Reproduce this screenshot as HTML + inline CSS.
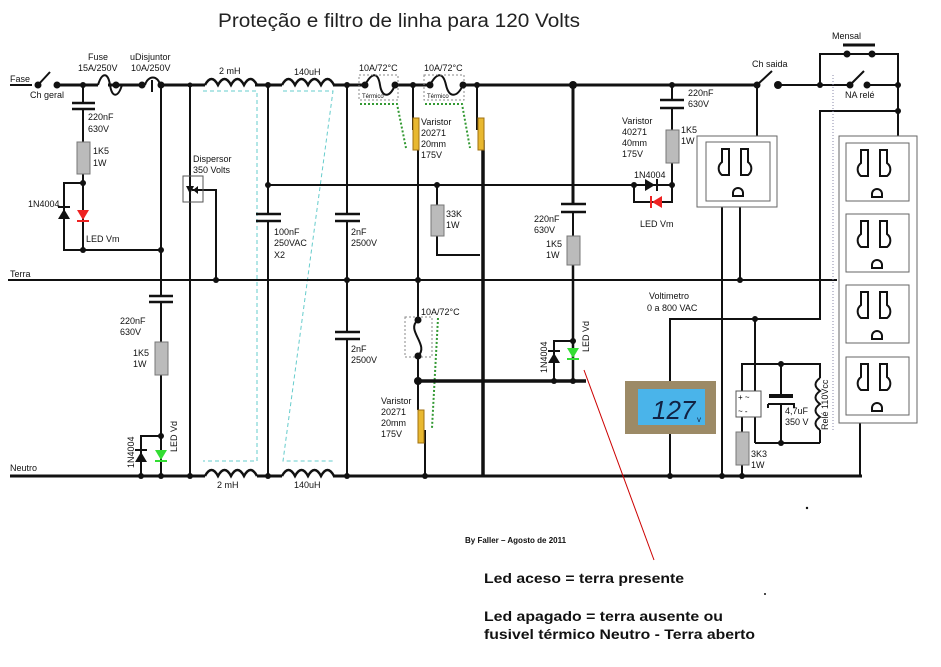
<!DOCTYPE html>
<html><head><meta charset="utf-8"><style>
html,body{margin:0;padding:0;background:#fff;}
svg{display:block;font-family:"Liberation Sans",Arial,sans-serif;}
</style></head><body>
<svg width="941" height="667" viewBox="0 0 941 667" xmlns="http://www.w3.org/2000/svg">
<rect width="941" height="667" fill="#fff"/>
<text x="218" y="27" font-size="19" fill="#222" textLength="362" lengthAdjust="spacingAndGlyphs">Proteção e filtro de linha para 120 Volts</text>

<g stroke="#6cc" stroke-width="1" stroke-dasharray="4,3" fill="none">
<polyline points="203,91 257,91 257,461 203,461"/>
<polyline points="283,91 333,91 283,461 333,461"/>
</g>
<g stroke="#393" stroke-width="2" stroke-dasharray="2,2" fill="none">
<polyline points="360,104 397,104 406,148"/>
<polyline points="425,104 462,104 470,148"/>
<polyline points="438,318 432,428"/>
</g>

<g stroke="#111" stroke-width="2" fill="none">
<line x1="10" y1="85" x2="32" y2="85"/>
<line x1="57" y1="85" x2="98" y2="85" stroke-width="3"/>
<line x1="108" y1="85" x2="145" y2="85" stroke-width="3"/>
<line x1="160" y1="85" x2="205" y2="85" stroke-width="3"/>
<line x1="255" y1="85" x2="282" y2="85" stroke-width="3"/>
<line x1="333" y1="85" x2="365" y2="85" stroke-width="3"/>
<line x1="395" y1="85" x2="430" y2="85" stroke-width="3"/>
<line x1="463" y1="85" x2="757" y2="85" stroke-width="3"/>
<line x1="778" y1="85" x2="850" y2="85" stroke-width="2"/>
<line x1="870" y1="85" x2="898" y2="85" stroke-width="2"/>
<line x1="38" y1="85" x2="50" y2="72"/>
<path d="M98,85 C102,72 108,72 110,85 C112,98 118,98 122,85" stroke-width="2"/>
<path d="M145,85 C148,75 158,75 160,85" />
<line x1="152" y1="80" x2="152" y2="92"/>
<path d="M205,85 q6.5,-12 13,0 q6.5,-12 13,0 q6.5,-12 13,0 q6.5,-12 13,0" stroke-width="2.5"/>
<path d="M282,85 q6.5,-12 13,0 q6.5,-12 13,0 q6.5,-12 13,0 q6.5,-12 13,0" stroke-width="2.5"/>
<path d="M205,476 q6.5,-12 13,0 q6.5,-12 13,0 q6.5,-12 13,0 q6.5,-12 13,0" stroke-width="2.5"/>
<path d="M282,476 q6.5,-12 13,0 q6.5,-12 13,0 q6.5,-12 13,0 q6.5,-12 13,0" stroke-width="2.5"/>
<path d="M365,85 C372,72 378,72 380,85 C382,98 390,98 395,85"/>
<path d="M430,85 C437,72 443,72 446,85 C449,98 457,98 463,85"/>
<line x1="8" y1="280" x2="835" y2="280"/>
<line x1="10" y1="476" x2="205" y2="476" stroke-width="3"/>
<line x1="257" y1="476" x2="282" y2="476" stroke-width="3"/>
<line x1="333" y1="476" x2="862" y2="476" stroke-width="3"/>

<line x1="83" y1="85" x2="83" y2="103"/>
<line x1="83" y1="109" x2="83" y2="142"/>
<line x1="83" y1="174" x2="83" y2="250"/>
<polyline points="83,183 64,183 64,250 161,250"/>
<line x1="161" y1="85" x2="161" y2="296"/>
<line x1="161" y1="302" x2="161" y2="342"/>
<line x1="161" y1="375" x2="161" y2="476"/>
<polyline points="161,436 141,436 141,476"/>
<line x1="190" y1="85" x2="190" y2="476"/>
<polyline points="192,190 216,190 216,280"/>
<line x1="268" y1="85" x2="268" y2="214"/>
<line x1="268" y1="221" x2="268" y2="476"/>
<line x1="268" y1="185" x2="627" y2="185"/>
<line x1="347" y1="85" x2="347" y2="214"/>
<line x1="347" y1="221" x2="347" y2="332"/>
<line x1="347" y1="339" x2="347" y2="476"/>
<line x1="413" y1="85" x2="413" y2="130"/>
<line x1="418" y1="140" x2="418" y2="320"/>
<line x1="418" y1="356" x2="418" y2="410"/>
<line x1="425" y1="430" x2="425" y2="476"/>
<line x1="418" y1="381" x2="586" y2="381" stroke-width="3.5"/>
<line x1="437" y1="185" x2="437" y2="205"/>
<polyline points="437,236 437,255 480,255"/>
<line x1="477" y1="85" x2="477" y2="130"/>
<line x1="483" y1="140" x2="483" y2="476" stroke-width="3.5"/>
<line x1="573" y1="85" x2="573" y2="204" stroke-width="3"/>
<line x1="573" y1="212" x2="573" y2="236"/>
<line x1="573" y1="265" x2="573" y2="381" stroke-width="2.5"/>
<polyline points="573,341 554,341 554,381"/>
<line x1="672" y1="85" x2="672" y2="100"/>
<line x1="672" y1="108" x2="672" y2="130"/>
<line x1="672" y1="163" x2="672" y2="185"/>
<line x1="627" y1="185" x2="672" y2="185"/>
<polyline points="634,185 634,202 672,202 672,185"/>
<line x1="757" y1="85" x2="772" y2="71"/>
<line x1="757" y1="85" x2="757" y2="136"/>
<line x1="722" y1="207" x2="722" y2="476"/>
<line x1="740" y1="207" x2="740" y2="280"/>
<polyline points="820,85 820,54 898,54 898,136"/>
<line x1="850" y1="85" x2="864" y2="71"/>
<line x1="843" y1="45" x2="875" y2="45" stroke-width="3"/>
<polyline points="898,111 820,111 820,319 670,319 670,476"/>
<line x1="755" y1="319" x2="755" y2="391"/>
<polyline points="742,391 742,364 820,364 820,378"/>
<line x1="820" y1="430" x2="820" y2="443"/>
<line x1="755" y1="417" x2="755" y2="443"/>
<line x1="755" y1="443" x2="820" y2="443"/>
<line x1="781" y1="364" x2="781" y2="396"/>
<line x1="781" y1="404" x2="781" y2="443"/>
<line x1="742" y1="417" x2="742" y2="432"/>
<line x1="742" y1="465" x2="742" y2="476"/>
<line x1="860" y1="423" x2="860" y2="476"/>
<path d="M820,378 q-9,6.5 0,13 q-9,6.5 0,13 q-9,6.5 0,13 q-9,6.5 0,13"/>
</g>
<line x1="835" y1="280" x2="880" y2="280" stroke="#111" stroke-width="2" stroke-dasharray="2,2"/>
<line x1="833" y1="75" x2="833" y2="430" stroke="#88a" stroke-width="1" stroke-dasharray="1,2"/>

<g stroke="#111" stroke-width="2.5">
<line x1="72" y1="103" x2="95" y2="103"/><line x1="72" y1="109" x2="95" y2="109"/>
<line x1="149" y1="296" x2="173" y2="296"/><line x1="149" y1="302" x2="173" y2="302"/>
<line x1="256" y1="214" x2="281" y2="214"/><line x1="256" y1="221" x2="281" y2="221"/>
<line x1="335" y1="214" x2="360" y2="214"/><line x1="335" y1="221" x2="360" y2="221"/>
<line x1="335" y1="332" x2="360" y2="332"/><line x1="335" y1="339" x2="360" y2="339"/>
<line x1="561" y1="204" x2="586" y2="204"/><line x1="561" y1="212" x2="586" y2="212"/>
<line x1="660" y1="100" x2="684" y2="100"/><line x1="660" y1="108" x2="684" y2="108"/>
<line x1="769" y1="396" x2="793" y2="396" stroke-width="4"/>
</g>
<path d="M768,404 L794,404 L794,408 M768,404 L768,408" stroke="#111" stroke-width="2" fill="none"/>

<g fill="#bbb" stroke="#777" stroke-width="1">
<rect x="77" y="142" width="13" height="32"/>
<rect x="155" y="342" width="13" height="33"/>
<rect x="431" y="205" width="13" height="31"/>
<rect x="567" y="236" width="13" height="29"/>
<rect x="666" y="130" width="13" height="33"/>
<rect x="736" y="432" width="13" height="33"/>
</g>
<g fill="#e8b830" stroke="#a07010" stroke-width="1">
<rect x="413" y="118" width="6" height="32"/>
<rect x="478" y="118" width="6" height="32"/>
<rect x="418" y="410" width="6" height="33"/>
</g>
<g fill="none" stroke="#888" stroke-width="1" stroke-dasharray="2,2">
<rect x="359" y="75" width="39" height="25"/>
<rect x="424" y="75" width="40" height="25"/>
<rect x="405" y="317" width="27" height="40"/>
</g>
<path d="M418,320 C405,330 430,345 418,356" stroke="#111" stroke-width="2" fill="none"/>
<rect x="183" y="176" width="20" height="26" fill="none" stroke="#555" stroke-width="1"/>
<path d="M186,186 L190,194 L194,186 Z M193,190 L198,186 L198,194 Z" fill="#111"/>
<g fill="#111">
<path d="M58,219 L70,219 L64,209 Z"/><rect x="58" y="206" width="12" height="2"/>
<path d="M135,462 L147,462 L141,452 Z"/><rect x="135" y="449" width="12" height="2"/>
<path d="M548,363 L560,363 L554,353 Z"/><rect x="548" y="350" width="12" height="2"/>
<path d="M645,179 L645,191 L655,185 Z"/><rect x="656" y="179" width="2" height="12"/>
</g>
<path d="M77,210 L89,210 L83,220 Z" fill="#e22"/><rect x="77" y="220" width="12" height="2" fill="#e22"/>
<path d="M662,196 L662,208 L652,202 Z" fill="#e22"/><rect x="650" y="196" width="2" height="12" fill="#e22"/>
<path d="M155,450 L167,450 L161,460 Z" fill="#3d3"/><rect x="155" y="460" width="12" height="2" fill="#3d3"/>
<path d="M567,348 L579,348 L573,358 Z" fill="#3d3"/><rect x="567" y="358" width="12" height="2" fill="#3d3"/>

<g fill="#111">
<circle cx="38" cy="85" r="3.5"/><circle cx="57" cy="85" r="3.5"/><circle cx="83" cy="85" r="3"/>
<circle cx="116" cy="85" r="3.5"/><circle cx="142" cy="85" r="3.5"/><circle cx="161" cy="85" r="3.5"/>
<circle cx="190" cy="85" r="2.5"/><circle cx="268" cy="85" r="3"/><circle cx="347" cy="85" r="3"/>
<circle cx="365" cy="85" r="3.5"/><circle cx="395" cy="85" r="3.5"/><circle cx="413" cy="85" r="3"/>
<circle cx="430" cy="85" r="3.5"/><circle cx="463" cy="85" r="3.5"/><circle cx="477" cy="85" r="3"/>
<circle cx="573" cy="85" r="4"/><circle cx="672" cy="85" r="3"/><circle cx="757" cy="85" r="3.5"/>
<circle cx="778" cy="85" r="4"/><circle cx="820" cy="85" r="3"/><circle cx="850" cy="85" r="3.5"/>
<circle cx="867" cy="85" r="3.5"/><circle cx="898" cy="85" r="3"/><circle cx="898" cy="111" r="3"/>
<circle cx="847" cy="54" r="3.5"/><circle cx="872" cy="54" r="3.5"/>
<circle cx="83" cy="183" r="3"/><circle cx="83" cy="250" r="3"/><circle cx="161" cy="250" r="3"/>
<circle cx="268" cy="185" r="3"/><circle cx="437" cy="185" r="3"/><circle cx="634" cy="185" r="3"/><circle cx="672" cy="185" r="3"/>
<circle cx="216" cy="280" r="3"/><circle cx="347" cy="280" r="3"/><circle cx="418" cy="280" r="3"/><circle cx="740" cy="280" r="3"/><circle cx="880" cy="280" r="3"/>
<circle cx="418" cy="381" r="4"/><circle cx="573" cy="341" r="3"/><circle cx="573" cy="381" r="3"/><circle cx="554" cy="381" r="3"/>
<circle cx="161" cy="436" r="3"/><circle cx="755" cy="319" r="3"/><circle cx="781" cy="364" r="3"/><circle cx="781" cy="443" r="3"/>
<circle cx="141" cy="476" r="3"/><circle cx="161" cy="476" r="3"/><circle cx="190" cy="476" r="3"/><circle cx="268" cy="476" r="3"/>
<circle cx="347" cy="476" r="3"/><circle cx="425" cy="476" r="3"/><circle cx="670" cy="476" r="3"/><circle cx="722" cy="476" r="3"/><circle cx="742" cy="476" r="3"/>
<circle cx="418" cy="320" r="3.5"/><circle cx="418" cy="356" r="3.5"/>
<circle cx="807" cy="508" r="1.2"/><circle cx="765" cy="594" r="1"/>
</g>

<g fill="#fff" stroke="#666" stroke-width="1">
<rect x="697" y="136" width="80" height="71"/>
<rect x="706" y="142" width="64" height="59"/>
<rect x="839" y="136" width="78" height="287"/>
<rect x="846" y="143" width="63" height="58"/>
<rect x="846" y="214" width="63" height="58"/>
<rect x="846" y="285" width="63" height="58"/>
<rect x="846" y="357" width="63" height="58"/>
</g>
<g fill="none" stroke="#111" stroke-width="2">
<path d="M722,149 h7 v26 h-7 a8,8 0 0 1 0,-13 z M748,149 h-7 v26 h7 a8,8 0 0 0 0,-13 z M733,193 a5,5 0 0 1 10,0 v3 h-10 z"/>
<path d="M861,150 h7 v26 h-7 a8,8 0 0 1 0,-13 z M887,150 h-7 v26 h7 a8,8 0 0 0 0,-13 z M872,194 a5,5 0 0 1 10,0 v3 h-10 z"/>
<path d="M861,221 h7 v26 h-7 a8,8 0 0 1 0,-13 z M887,221 h-7 v26 h7 a8,8 0 0 0 0,-13 z M872,265 a5,5 0 0 1 10,0 v3 h-10 z"/>
<path d="M861,292 h7 v26 h-7 a8,8 0 0 1 0,-13 z M887,292 h-7 v26 h7 a8,8 0 0 0 0,-13 z M872,336 a5,5 0 0 1 10,0 v3 h-10 z"/>
<path d="M861,364 h7 v26 h-7 a8,8 0 0 1 0,-13 z M887,364 h-7 v26 h7 a8,8 0 0 0 0,-13 z M872,408 a5,5 0 0 1 10,0 v3 h-10 z"/>
</g>

<rect x="625" y="381" width="91" height="53" fill="#9c8a66"/>
<rect x="638" y="389" width="67" height="36" fill="#4ab4ea"/>
<text x="652" y="419" font-size="26" fill="#124" font-style="italic">127</text>
<text x="697" y="422" font-size="8" fill="#124">v</text>
<rect x="736" y="391" width="25" height="26" fill="#fff" stroke="#555"/>
<text x="738" y="400" font-size="8">+  ~</text><text x="738" y="414" font-size="8">~  -</text>

<line x1="584" y1="370" x2="654" y2="560" stroke="#c00" stroke-width="1"/>

<g font-size="9" fill="#111">
<text x="10" y="82">Fase</text>
<text x="30" y="98">Ch geral</text>
<text x="88" y="60">Fuse</text><text x="78" y="71">15A/250V</text>
<text x="130" y="60">uDisjuntor</text><text x="131" y="71">10A/250V</text>
<text x="88" y="120">220nF</text><text x="88" y="132">630V</text>
<text x="93" y="154">1K5</text><text x="93" y="166">1W</text>
<text x="28" y="207">1N4004</text>
<text x="86" y="242">LED Vm</text>
<text x="193" y="162">Dispersor</text><text x="193" y="173">350 Volts</text>
<text x="219" y="74">2 mH</text><text x="294" y="75">140uH</text>
<text x="274" y="235">100nF</text><text x="274" y="246">250VAC</text><text x="274" y="258">X2</text>
<text x="351" y="235">2nF</text><text x="351" y="246">2500V</text>
<text x="351" y="352">2nF</text><text x="351" y="363">2500V</text>
<text x="359" y="71">10A/72°C</text><text x="424" y="71">10A/72°C</text>
<text x="362" y="98" font-size="6">Térmico</text><text x="427" y="98" font-size="6">Térmico</text>
<text x="421" y="125">Varistor</text><text x="421" y="136">20271</text><text x="421" y="147">20mm</text><text x="421" y="158">175V</text>
<text x="446" y="217">33K</text><text x="446" y="228">1W</text>
<text x="421" y="315">10A/72°C</text>
<text x="381" y="404">Varistor</text><text x="381" y="415">20271</text><text x="381" y="426">20mm</text><text x="381" y="437">175V</text>
<text x="534" y="222">220nF</text><text x="534" y="233">630V</text>
<text x="546" y="247">1K5</text><text x="546" y="258">1W</text>
<text x="622" y="124">Varistor</text><text x="622" y="135">40271</text><text x="622" y="146">40mm</text><text x="622" y="157">175V</text>
<text x="688" y="96">220nF</text><text x="688" y="107">630V</text>
<text x="681" y="133">1K5</text><text x="681" y="144">1W</text>
<text x="634" y="178">1N4004</text>
<text x="640" y="227">LED Vm</text>
<text x="752" y="67">Ch saida</text>
<text x="832" y="39">Mensal</text>
<text x="845" y="98">NA relé</text>
<text x="10" y="277">Terra</text>
<text x="10" y="471">Neutro</text>
<text x="120" y="324">220nF</text><text x="120" y="335">630V</text>
<text x="133" y="356">1K5</text><text x="133" y="367">1W</text>
<text x="217" y="488">2 mH</text><text x="294" y="488">140uH</text>
<text x="649" y="299">Voltimetro</text><text x="647" y="311">0 a 800 VAC</text>
<text x="785" y="414">4,7uF</text><text x="785" y="425">350 V</text>
<text x="751" y="457">3K3</text><text x="751" y="468">1W</text>
<text transform="translate(134,468) rotate(-90)">1N4004</text>
<text transform="translate(177,452) rotate(-90)">LED Vd</text>
<text transform="translate(547,373) rotate(-90)">1N4004</text>
<text transform="translate(589,352) rotate(-90)">LED Vd</text>
<text transform="translate(828,430) rotate(-90)">Relé 110Vcc</text>
<text x="465" y="543" font-size="8" font-weight="bold">By Faller – Agosto de 2011</text>
</g>
<g font-size="14" font-weight="bold" fill="#111">
<text x="484" y="583" textLength="200" lengthAdjust="spacingAndGlyphs">Led aceso = terra presente</text>
<text x="484" y="621" textLength="239" lengthAdjust="spacingAndGlyphs">Led apagado = terra ausente ou</text>
<text x="484" y="639" textLength="271" lengthAdjust="spacingAndGlyphs">fusivel térmico Neutro - Terra aberto</text>
</g>
</svg>
</body></html>
